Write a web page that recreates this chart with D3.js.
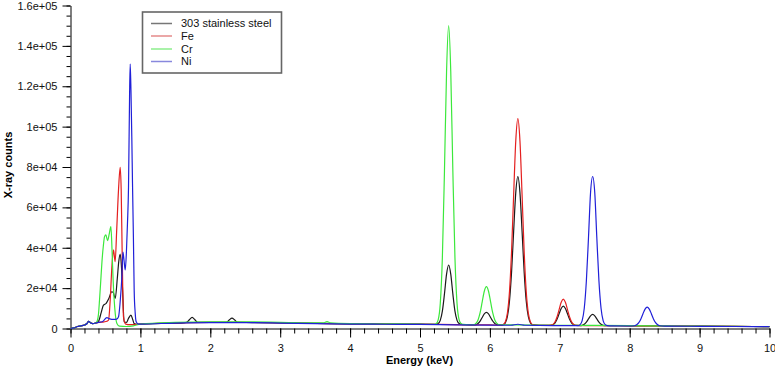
<!DOCTYPE html>
<html>
<head>
<meta charset="utf-8">
<script src="https://cdn.jsdelivr.net/npm/d3@7"></script>
<style>
  html, body { margin: 0; padding: 0; background: #fff; }
  svg { display: block; }
  text { font-family: "Liberation Sans", Arial, sans-serif; }
</style>
</head>
<body>
<svg id="chart" width="775" height="368"></svg>
<script>
// ---------------- DATA ----------------
const seriesNames = ["303 stainless steel", "Fe", "Cr", "Ni"];

// [energy keV, X-ray counts]
const steel = [
  [0,0],[0.05,300],[0.1,1000],[0.15,1300],[0.2,1700],[0.24,2600],[0.26,3600],[0.28,3000],[0.32,2400],[0.36,2800],
  [0.40,3500],[0.44,8000],[0.47,11500],[0.51,12500],[0.55,15000],[0.59,18200],[0.61,18000],[0.64,14900],
  [0.67,25000],[0.69,33000],[0.711,36900],[0.73,30000],[0.745,19000],[0.768,3300],[0.80,3000],[0.83,5000],
  [0.864,6600],[0.89,4500],[0.91,2500],[0.95,2100],[1.0,2200],[1.3,2500],[1.62,2800],[1.66,3000],[1.70,4300],
  [1.74,5470],[1.78,4300],[1.82,3000],[2.0,3000],[2.23,3000],[2.27,4200],[2.31,5100],[2.35,4200],[2.39,3000],
  [2.6,2950],[3.0,2800],[3.5,2500],[4.0,2300],[4.5,2250],[5.0,2150],[5.20,2050],[5.23,2070],[5.26,2460],
  [5.29,4050],[5.32,8590],[5.35,17140],[5.38,26940],[5.41,31450],[5.44,26940],[5.47,17140],[5.50,8590],
  [5.53,4050],[5.56,2460],[5.59,2070],[5.65,1900],[5.77,1800],[5.80,1930],[5.83,2500],[5.86,3700],[5.89,5470],
  [5.92,7210],[5.95,7950],[5.98,7210],[6.01,5470],[6.04,3700],[6.07,2500],[6.10,1930],[6.16,1720],[6.19,1830],
  [6.22,2770],[6.25,5830],[6.28,13500],[6.31,28000],[6.34,48300],[6.37,67300],[6.40,75300],[6.43,67300],
  [6.46,48300],[6.49,28000],[6.52,13500],[6.55,5830],[6.58,2770],[6.61,1830],[6.70,1600],[6.87,1550],
  [6.90,1830],[6.93,2710],[6.96,4540],[6.99,7270],[7.02,9940],[7.05,11080],[7.08,9940],[7.11,7270],[7.14,4540],
  [7.17,2710],[7.20,1830],[7.23,1510],[7.29,1450],[7.32,1550],[7.35,2060],[7.38,3140],[7.41,4730],[7.44,6290],
  [7.47,6950],[7.50,6290],[7.53,4730],[7.56,3140],[7.59,2060],[7.62,1550],[7.65,1400],[8.0,1350],[8.5,1250],
  [9.0,1150],[9.5,1050],[10,950]
];

const fe = [
  [0,0],[0.05,300],[0.1,1000],[0.15,1300],[0.2,1700],[0.24,2600],[0.26,3600],[0.28,3000],[0.32,2400],[0.36,2700],
  [0.40,3000],[0.48,3300],[0.52,3600],[0.544,4100],[0.568,14000],[0.592,30600],[0.615,38900],[0.639,33100],
  [0.66,48000],[0.687,68800],[0.711,79800],[0.725,68800],[0.74,35600],[0.758,5800],[0.79,2200],[0.85,1900],
  [0.95,2000],[1.0,2200],[1.5,2800],[2.0,3000],[2.5,3000],[3.0,2800],[3.5,2500],[4.0,2300],[4.5,2250],
  [5.0,2150],[5.5,1900],[6.0,1750],[6.16,1650],[6.19,1940],[6.22,3250],[6.25,7490],[6.28,18150],[6.31,38300],
  [6.34,66500],[6.37,92900],[6.40,104000],[6.43,92900],[6.46,66500],[6.49,38300],[6.52,18150],[6.55,7490],
  [6.58,3250],[6.61,1940],[6.70,1620],[6.84,1560],[6.87,1750],[6.90,1980],[6.93,3180],[6.96,5670],[6.99,9380],
  [7.02,13010],[7.05,14560],[7.08,13010],[7.11,9380],[7.14,5670],[7.17,3180],[7.20,1980],[7.23,1550],
  [7.5,1450],[8.0,1350],[8.5,1250],[9.0,1150],[9.5,1050],[10,950]
];

const cr = [
  [0,0],[0.05,300],[0.1,1000],[0.15,1300],[0.2,1700],[0.24,2600],[0.26,3600],[0.28,3000],[0.32,2400],[0.36,2700],
  [0.38,3500],[0.40,7000],[0.415,14000],[0.43,22000],[0.45,33000],[0.47,41000],[0.487,45500],[0.506,46400],
  [0.53,43500],[0.555,47000],[0.578,50500],[0.595,38000],[0.606,27300],[0.625,14000],[0.64,7450],[0.664,2500],
  [0.70,1200],[0.8,1000],[0.9,1300],[1.0,2200],[1.5,3000],[2.0,3300],[2.5,3300],[3.0,3050],[3.5,2750],
  [3.62,2800],[3.67,3400],[3.72,2800],[4.0,2450],[4.5,2300],[5.0,2150],[5.20,2050],[5.23,2370],[5.26,4310],
  [5.29,12320],[5.32,35110],[5.35,78070],[5.38,127350],[5.41,150000],[5.44,127350],[5.47,78070],[5.50,35110],
  [5.53,12320],[5.56,4310],[5.59,2370],[5.62,2000],[5.70,1850],[5.77,1860],[5.80,2490],[5.83,4230],[5.86,7840],
  [5.89,13200],[5.92,18460],[5.95,20700],[5.98,18460],[6.01,13200],[6.04,7840],[6.07,4230],[6.10,2490],
  [6.13,1860],[6.3,1750],[7.0,1600],[7.5,1550],[8.0,1450],[8.5,1300],[9.0,1150],[9.5,1050],[10,950]
];

const ni = [
  [0,0],[0.05,300],[0.1,1000],[0.15,1300],[0.2,1700],[0.24,2600],[0.26,3600],[0.28,3000],[0.32,2400],[0.36,2700],
  [0.40,3000],[0.46,3500],[0.52,5400],[0.56,4800],[0.62,4500],[0.66,4600],[0.687,5800],[0.71,13000],
  [0.735,25600],[0.75,37800],[0.765,34000],[0.783,29000],[0.80,38000],[0.815,52000],[0.83,70000],
  [0.845,115000],[0.854,131000],[0.865,118000],[0.877,95000],[0.887,72000],[0.90,45000],[0.911,19000],
  [0.925,8000],[0.94,3300],[0.97,2200],[1.0,2200],[1.5,2700],[2.0,2900],[2.5,2900],[3.0,2700],[3.5,2400],
  [4.0,2200],[4.5,2100],[5.0,2000],[5.5,1800],[6.0,1650],[6.3,1600],[6.4,2100],[6.5,1600],[7.0,1450],
  [7.26,1400],[7.29,1900],[7.32,3910],[7.35,10030],[7.38,23500],[7.41,44660],[7.44,67350],[7.47,75300],
  [7.50,67350],[7.53,44660],[7.56,23500],[7.59,10030],[7.62,3910],[7.65,1900],[7.68,1400],[7.75,1300],
  [8.0,1250],[8.07,1350],[8.10,1810],[8.13,2870],[8.16,4760],[8.19,7310],[8.22,9630],[8.25,10580],
  [8.28,9630],[8.31,7310],[8.34,4760],[8.37,2870],[8.40,1810],[8.43,1350],[8.5,1200],[9.0,1100],
  [9.5,1000],[10,900]
];

const xTickValues = [0,1,2,3,4,5,6,7,8,9,10];
const xTickLabels = ["0","1","2","3","4","5","6","7","8","9","10"];
const yTickValues = [0,20000,40000,60000,80000,100000,120000,140000,160000];
const yTickLabels = ["0","2e+04","4e+04","6e+04","8e+04","1e+05","1.2e+05","1.4e+05","1.6e+05"];
const xTitle = "Energy (keV)";
const yTitle = "X-ray counts";

// ---------------- STYLE / LAYOUT ----------------
const colors = ["#1a1a1a", "#e41f1f", "#3ce83c", "#2020d8"];
const legendColors = ["#777777", "#e58a8a", "#8cee8c", "#8888dd"];
const svg = d3.select("#chart");

const x = d3.scaleLinear().domain([0, 10]).range([70.5, 769.5]);
const y = d3.scaleLinear().domain([0, 160000]).range([328.5, 5.5]);

const fontSize = "11px";

// minor ticks
svg.append("g").attr("transform", "translate(0,328.5)")
  .call(d3.axisBottom(x).tickValues(d3.range(0, 10.001, 0.2)).tickSize(5).tickFormat(""))
  .call(g => g.select(".domain").remove());
svg.append("g").attr("transform", "translate(70.5,0)")
  .call(d3.axisLeft(y).tickValues(d3.range(0, 160001, 5000)).tickSize(4).tickFormat(""))
  .call(g => g.select(".domain").remove());

// major axes
const xAxis = svg.append("g").attr("transform", "translate(0,328.5)")
  .call(d3.axisBottom(x).tickValues(xTickValues).tickSize(9).tickSizeOuter(0)
        .tickFormat((d, i) => xTickLabels[i]).tickPadding(7));
xAxis.selectAll("text").style("font-size", fontSize).attr("fill", "#111");

const yAxis = svg.append("g").attr("transform", "translate(70.5,0)")
  .call(d3.axisLeft(y).tickValues(yTickValues).tickSize(8).tickSizeOuter(0)
        .tickFormat((d, i) => yTickLabels[i]).tickPadding(5));
yAxis.selectAll("text").style("font-size", fontSize).attr("fill", "#111");

svg.selectAll(".tick line").attr("stroke", "#000");
svg.selectAll(".domain").attr("stroke", "#000");

// axis titles
svg.append("text").attr("x", 419.5).attr("y", 364)
  .attr("text-anchor", "middle").style("font-size", fontSize).style("font-weight", "bold")
  .text(xTitle);
svg.append("text").attr("transform", "translate(12,165) rotate(-90)")
  .attr("text-anchor", "middle").style("font-size", fontSize).style("font-weight", "bold")
  .text(yTitle);

// lines
const line = d3.line()
  .x(d => x(d[0]))
  .y(d => y(d[1]))
  .curve(d3.curveMonotoneX);

const allSeries = [steel, fe, cr, ni];
allSeries.forEach((s, i) => {
  svg.append("path")
    .datum(s)
    .attr("fill", "none")
    .attr("stroke", colors[i])
    .attr("stroke-width", 1.2)
    .attr("stroke-linejoin", "round")
    .attr("d", line);
});

// legend
const lg = svg.append("g");
lg.append("rect").attr("x", 142.5).attr("y", 12).attr("width", 139).attr("height", 61)
  .attr("fill", "#fff").attr("stroke", "#666").attr("stroke-width", 1.6);
const rowY = [23.5, 36, 49, 61.5];
seriesNames.forEach((name, i) => {
  lg.append("line").attr("x1", 151).attr("x2", 172).attr("y1", rowY[i]).attr("y2", rowY[i])
    .attr("stroke", legendColors[i]).attr("stroke-width", 1.5);
  lg.append("text").attr("x", 181).attr("y", rowY[i]).attr("dy", "0.35em")
    .style("font-size", fontSize).attr("fill", "#111").text(name);
});
</script>
</body>
</html>
